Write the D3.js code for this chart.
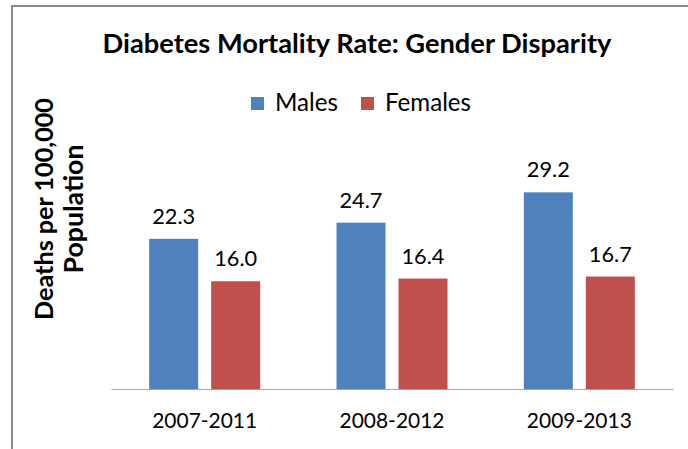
<!DOCTYPE html>
<html>
<head>
<meta charset="utf-8">
<script src="https://cdn.jsdelivr.net/npm/d3@7"></script>
<style>
  html, body { margin: 0; padding: 0; background: #fff; }
  svg { display: block; }
  text { font-family: Lato, "Open Sans", sans-serif; fill: #000; }
</style>
</head>
<body>
<svg id="chart" width="688" height="449"></svg>
<script>
// Chart data
const categories = ["2007-2011", "2008-2012", "2009-2013"];
const seriesNames = ["Males", "Females"];
const males = [22.3, 24.7, 29.2];
const females = [16.0, 16.4, 16.7];
const colors = ["#4F81BD", "#C0504D"];
const titleText = "Diabetes Mortality Rate: Gender Disparity";
const yTitleLines = ["Deaths per 100,000", "Population"];

const svg = d3.select("#chart");
const W = 688, H = 449;

// Set a font size so the text spans the given width
function fitWidth(sel, width) {
  const node = sel.node();
  let fs = parseFloat(sel.attr("font-size"));
  const w = node.getComputedTextLength();
  if (w > 0) sel.attr("font-size", (fs * width / w).toFixed(2));
  return sel;
}

// Outer chart border
svg.append("rect")
  .attr("x", 12).attr("y", 6)
  .attr("width", W + 10).attr("height", H + 10)
  .attr("fill", "none")
  .attr("stroke", "#8a8a8a")
  .attr("stroke-width", 2);

// Plot area
const plot = { left: 111, right: 673, top: 153.3, bottom: 389 };

const x0 = d3.scaleBand()
  .domain(categories)
  .range([plot.left, plot.right])
  .padding(0);

const x1 = d3.scaleBand()
  .domain(seriesNames)
  .range([0, x0.bandwidth()])
  .paddingInner(0.2097)
  .paddingOuter(0.6156);

const y = d3.scaleLinear()
  .domain([0, 35])
  .range([plot.bottom, plot.top]);

const table = categories.map((c, i) => ({
  category: c,
  values: [
    { series: "Males", value: males[i] },
    { series: "Females", value: females[i] }
  ]
}));

const groups = svg.append("g").selectAll("g")
  .data(table)
  .join("g")
  .attr("transform", d => `translate(${x0(d.category)},0)`);

groups.selectAll("rect")
  .data(d => d.values)
  .join("rect")
  .attr("x", d => x1(d.series))
  .attr("y", d => y(d.value))
  .attr("width", x1.bandwidth())
  .attr("height", d => y(0) - y(d.value))
  .attr("fill", d => colors[seriesNames.indexOf(d.series)]);

// Value labels above bars
groups.selectAll("text.val")
  .data(d => d.values)
  .join("text")
  .attr("class", "val")
  .attr("x", d => x1(d.series) + x1.bandwidth() / 2)
  .attr("y", d => y(d.value) - 15)
  .attr("text-anchor", "middle")
  .attr("font-size", 21)
  .attr("fill", "#1a1a1a")
  .text(d => d.value.toFixed(1))
  .each(function () { fitWidth(d3.select(this), 43); });

// Category axis
const xAxis = svg.append("g")
  .attr("transform", `translate(0,${plot.bottom})`)
  .call(d3.axisBottom(x0).tickSize(0).tickPadding(0));
xAxis.select(".domain")
  .attr("stroke", "#a6a6a6")
  .attr("stroke-width", 1.2);
xAxis.selectAll(".tick text")
  .attr("font-family", "Lato, 'Open Sans', sans-serif")
  .attr("font-size", 21)
  .attr("fill", "#1a1a1a")
  .attr("dy", 0)
  .attr("y", 427.5 - plot.bottom)
  .each(function () { fitWidth(d3.select(this), 105); });

// Title
const title = svg.append("text")
  .attr("x", 357).attr("y", 53)
  .attr("text-anchor", "middle")
  .attr("font-weight", "bold")
  .attr("font-size", 26)
  .text(titleText);
fitWidth(title, 509);

// Legend
const legend = svg.append("g");
const legendItems = [
  { name: "Males", sx: 251, tx: 275, tw: 63 },
  { name: "Females", sx: 361, tx: 385, tw: 86 }
];
legendItems.forEach((d, i) => {
  legend.append("rect")
    .attr("x", d.sx).attr("y", 97)
    .attr("width", 13).attr("height", 13)
    .attr("fill", colors[i]);
  const t = legend.append("text")
    .attr("x", d.tx).attr("y", 110.5)
    .attr("font-size", 21)
    .text(d.name);
  fitWidth(t, d.tw);
});

// Vertical axis title
const yTitle = svg.append("g");
const yLines = [
  { text: yTitleLines[0], x: 53, len: 222 },
  { text: yTitleLines[1], x: 83, len: 129 }
];
yLines.forEach(d => {
  const t = yTitle.append("text")
    .attr("transform", `translate(${d.x},${209}) rotate(-90)`)
    .attr("text-anchor", "middle")
    .attr("font-weight", "bold")
    .attr("font-size", 20)
    .text(d.text);
  fitWidth(t, d.len);
});
</script>
</body>
</html>
